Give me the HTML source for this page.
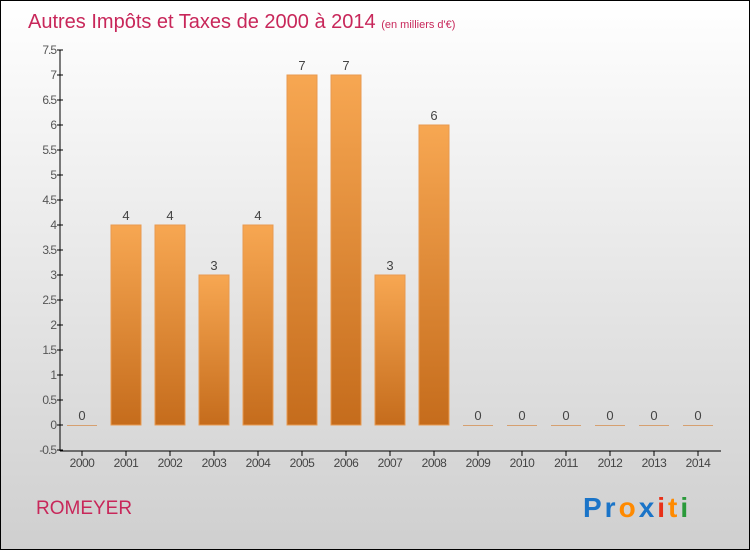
<!DOCTYPE html>
<html><head><meta charset="utf-8"><style>
body{margin:0}
#c{position:relative;width:748px;height:548px;border:1px solid #000;background:linear-gradient(#ffffff,#cfcfcf);font-family:"Liberation Sans",sans-serif;overflow:hidden}
</style></head><body>
<div id="c">
<svg id="s" width="748" height="548" style="position:absolute;left:0;top:0">
<defs><linearGradient id="g" x1="0" y1="0" x2="0" y2="1"><stop offset="0" stop-color="#f7a752"/><stop offset="1" stop-color="#c56c1c"/></linearGradient></defs>
<text x="27" y="27" font-size="20" fill="#c8275a">Autres Impôts et Taxes de 2000 à 2014 <tspan font-size="11">(en milliers d'€)</tspan></text>
<text x="35" y="513" font-size="19" fill="#c8275a">ROMEYER</text>
<text x="582" y="516" font-size="28" font-weight="bold" letter-spacing="3"><tspan fill="#1a74c8">Pr</tspan><tspan fill="#ff8a00">o</tspan><tspan fill="#1a74c8">x</tspan><tspan fill="#e83018">i</tspan><tspan fill="#ff8a00">t</tspan><tspan fill="#2a9a3a">i</tspan></text>
</svg>
</div>
<script>
const categories=["2000","2001","2002","2003","2004","2005","2006","2007","2008","2009","2010","2011","2012","2013","2014"];
const values=[0,4,4,3,4,7,7,3,6,0,0,0,0,0,0];
const yTicks=[-0.5,0,0.5,1,1.5,2,2.5,3,3.5,4,4.5,5,5.5,6,6.5,7,7.5];
const tickLabels=["-0.5","0","0.5","1","1.5","2","2.5","3","3.5","4","4.5","5","5.5","6","6.5","7","7.5"];
const s=document.getElementById('s'),NS="http://www.w3.org/2000/svg";
const y=v=>424-v*50, x=i=>81+i*44;
function el(t,a,txt){const e=document.createElementNS(NS,t);for(const k in a)e.setAttribute(k,a[k]);if(txt!=null)e.textContent=txt;s.appendChild(e);return e;}
let ax=el('line',{x1:59,y1:49,x2:59,y2:450,stroke:'#000'});


let bx=el('line',{x1:59,y1:450,x2:720,y2:450,stroke:'#000'});


yTicks.forEach((v,i)=>{
 let t=el('line',{x1:56,y1:y(v),x2:62,y2:y(v),stroke:'#000'});
 
 
 let l=el('text',{x:55,y:y(v)+4,'font-size':12,fill:'#555','text-anchor':'end','letter-spacing':'-1'},tickLabels[i]);
 
 
});
categories.forEach((c,i)=>{
 let t=el('line',{x1:x(i),y1:450,x2:x(i),y2:455,stroke:'#000'});
 
 
 let l=el('text',{x:x(i),y:466,'font-size':12,fill:'#444','text-anchor':'middle','letter-spacing':'-0.5'},c);
 
 
 const v=values[i];
 let b;
 if(v>0){b=el('rect',{x:x(i)-15,y:y(v),width:30,height:y(0)-y(v),fill:'url(#g)',stroke:'#e89a50','stroke-width':1});}
 else{b=el('rect',{x:x(i)-15,y:y(0),width:30,height:1,fill:'#d6a070'});}
 
 
 let vl=el('text',{x:x(i),y:y(v)-5,'font-size':13,fill:'#444','text-anchor':'middle'},String(v));
 
 
});
</script>
</body></html>
